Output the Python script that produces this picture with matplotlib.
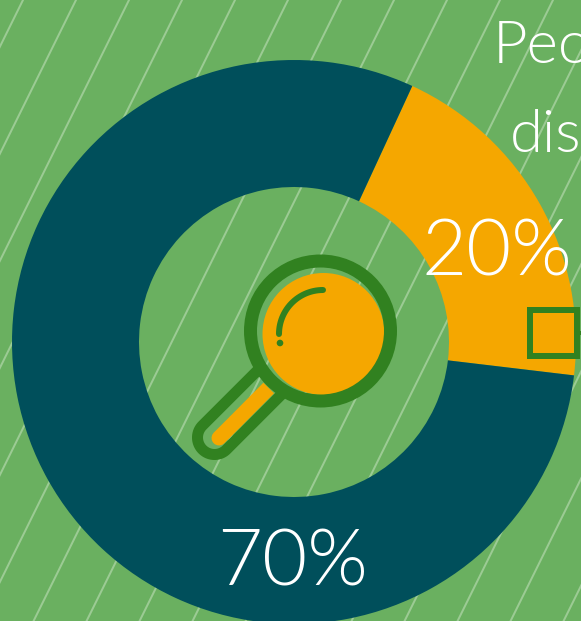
import numpy as np
import matplotlib
matplotlib.use("Agg")
import matplotlib.pyplot as plt
from matplotlib import font_manager
from matplotlib.patches import Circle, Rectangle

shares = [20, 80]
share_colors = ["#F5A700", "#004F5B"]
pct_labels = ["20%", "70%"]
title_parts = ["Peo", "dis"]

BG = "#6AB060"
STRIPE = "#9CCB94"
ICON = "#318120"
ORANGE = "#F5A700"
W, H = 581, 621


def px(v):
    # pixeles a puntos (dpi 100)
    return v * 72 / 100


def fuente_light(size):
    # Lato Light por archivo: weight="light" elige la Hairline
    for f in font_manager.fontManager.ttflist:
        if f.fname.split("/")[-1] == "Lato-Light.ttf":
            return font_manager.FontProperties(fname=f.fname, size=size)
    return font_manager.FontProperties(family="Lato", size=size)


fig = plt.figure(figsize=(W / 100, H / 100), dpi=100, facecolor=BG)
ax = fig.add_axes([0, 0, 1, 1])
ax.patch.set_visible(False)

# rayas del fondo
for x0 in np.arange(23, 950, 53):
    ax.plot([x0, x0 - H / 2.02], [0, H], color=STRIPE, lw=px(2), zorder=1)

# anillo
ax.pie(shares, colors=share_colors, startangle=-65.2, counterclock=True,
       center=(294, 342), radius=282, wedgeprops=dict(width=127, zorder=2, linewidth=0))
ax.set_xlim(0, W)
ax.set_ylim(H, 0)
ax.set_aspect("equal")

# lupa: mango
ax.plot([268.7, 235], [388, 422], color=ORANGE, lw=px(15), solid_capstyle="butt", zorder=3)
ax.plot([235, 219], [422, 438], color=ORANGE, lw=px(15), solid_capstyle="round", zorder=3)
t = np.linspace(0, np.pi, 40)
end = np.array([214.5, 437.5])
d = np.array([-1, 1]) / np.sqrt(2)
n = np.array([1, 1]) / np.sqrt(2)
r = 17
cap = np.array([end + r * (-np.cos(a) * n + np.sin(a) * d) for a in t])
ax.plot(np.r_[254, cap[:, 0], 278], np.r_[374, cap[:, 1], 398], color=ICON, lw=px(11),
        solid_joinstyle="round", zorder=4)

# lupa: lente
ax.add_patch(Circle((323.5, 334), 61, fc=ORANGE, ec="none", zorder=3))
ax.add_patch(Circle((320.5, 331), 70, fc="none", ec=ICON, lw=px(13), zorder=5))
a = np.linspace(np.pi / 2, np.pi, 30)
ax.plot(323 + 44 * np.cos(a), 334 - 44 * np.sin(a), color=ICON, lw=px(6),
        solid_capstyle="round", zorder=5)
ax.add_patch(Circle((280, 343), 3.3, fc=ICON, ec="none", zorder=5))

# cuadrado
ax.add_patch(Rectangle((530, 310), 47, 46, fc="none", ec=ICON, lw=px(6), zorder=5))
ax.plot([579, 581], [332.5, 332.5], color=ICON, lw=px(4), zorder=5)

# textos
font = dict(color="white", va="baseline", zorder=6)
ax.text(422, 276, pct_labels[0], fontproperties=fuente_light(56), **font)
ax.text(217, 586, pct_labels[1], fontproperties=fuente_light(56), **font)
ax.text(493, 63, title_parts[0], fontproperties=fuente_light(43), **font)
ax.text(510, 152, title_parts[1], fontproperties=fuente_light(43), **font)

fig.savefig("out.png", dpi=100, facecolor=BG)
